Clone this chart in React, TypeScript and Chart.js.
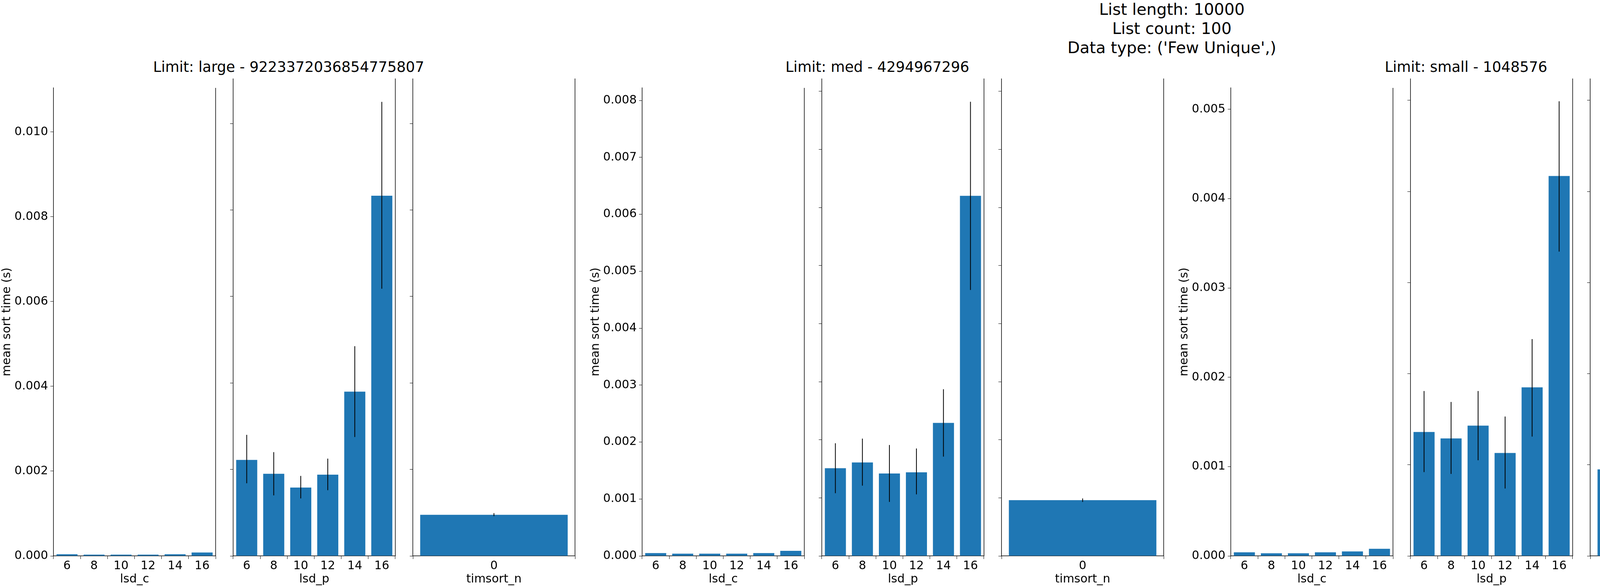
import React, { useEffect, useRef } from "react";
import Chart from "chart.js/auto";

const groupTitles = [
  "Limit: large - 9223372036854775807",
  "Limit: med - 4294967296",
  "Limit: small - 1048576",
  "Limit: tiny - 65536",
];
const groupYMax = [0.01104, 0.00822, 0.00524, 0.00635];
const groupYStep = [0.002, 0.001, 0.001, 0.001];

const radixLabels = ["6", "8", "10", "12", "14", "16"];
const timsortLabels = ["0"];

const lsdC = [
  [0.00004, 0.00003, 0.00003, 0.00003, 0.00004, 0.00008],
  [0.00005, 0.00004, 0.00004, 0.00004, 0.00005, 0.00009],
  [0.00004, 0.00003, 0.00003, 0.00004, 0.00005, 0.00008],
  [0.00004, 0.00003, 0.00003, 0.00003, 0.00005, 0.00008],
];
const lsdP = [
  [0.00222, 0.0019, 0.00158, 0.00188, 0.0038, 0.00833],
  [0.00151, 0.00161, 0.00142, 0.00144, 0.00229, 0.0062],
  [0.00136, 0.00129, 0.00143, 0.00113, 0.00185, 0.00417],
  [0.00126, 0.00098, 0.00111, 0.00119, 0.00177, 0.00477],
];
const lsdPLow = [
  [0.00168, 0.0014, 0.00133, 0.00152, 0.00275, 0.00618],
  [0.00108, 0.00121, 0.00093, 0.00106, 0.00171, 0.00458],
  [0.00092, 0.0009, 0.00105, 0.00074, 0.00131, 0.00334],
  [0.00085, 0.00063, 0.00077, 0.0007, 0.00131, 0.00349],
];
const lsdPHigh = [
  [0.0028, 0.0024, 0.00185, 0.00225, 0.00485, 0.0105],
  [0.00194, 0.00202, 0.00191, 0.00185, 0.00287, 0.00782],
  [0.00181, 0.00169, 0.00181, 0.00153, 0.00238, 0.00499],
  [0.00166, 0.00134, 0.00146, 0.00169, 0.00225, 0.00605],
];
const timsort = [[0.00095], [0.00096], [0.00095], [0.00098]];
const timsortLow = [[0.00092], [0.00093], [0.00093], [0.00091]];
const timsortHigh = [[0.00099], [0.00099], [0.00098], [0.00105]];

const BLUE = "#1f77b4";
const FONT = "'DejaVu Sans', sans-serif";
const PLOT_TOP = 201;
const PLOT_H = 1222;
const PLOT_W = 415;
const CANVAS_H = 1299;
const groupLeft = [137, 1644, 3151, 4658];
const panelOffsets = [0, 460, 920];

type PanelProps = {
  left: number;
  labels: string[];
  values: number[];
  low: number[] | null;
  high: number[] | null;
  xTitle: string;
  yMax: number;
  yStep: number;
  first: boolean;
  barPct: number;
};

const Panel: React.FC<PanelProps> = (p) => {
  const ref = useRef<HTMLCanvasElement | null>(null);
  const yPad = p.first ? 137 : 12;

  useEffect(() => {
    if (!ref.current) return;
    const errPlugin = {
      id: "errbars",
      afterDatasetsDraw(chart: any) {
        const ctx = chart.ctx;
        const y = chart.scales.y;
        const meta = chart.getDatasetMeta(0);
        ctx.save();
        ctx.strokeStyle = "#000";
        ctx.lineWidth = 2;
        meta.data.forEach((el: any, i: number) => {
          const lo = p.low ? p.low[i] : p.values[i];
          const hi = p.high ? p.high[i] : p.values[i];
          ctx.beginPath();
          ctx.moveTo(el.x, y.getPixelForValue(lo));
          ctx.lineTo(el.x, y.getPixelForValue(hi));
          ctx.stroke();
        });
        // right spine
        const a = chart.chartArea;
        ctx.lineWidth = 1.5;
        ctx.beginPath();
        ctx.moveTo(a.right, a.top);
        ctx.lineTo(a.right, a.bottom);
        ctx.stroke();
        ctx.restore();
      },
    };
    const chart = new Chart(ref.current, {
      type: "bar",
      data: {
        labels: p.labels,
        datasets: [
          {
            data: p.values,
            backgroundColor: BLUE,
            barPercentage: p.barPct,
            categoryPercentage: 1,
          },
        ],
      },
      options: {
        animation: false,
        responsive: false,
        maintainAspectRatio: false,
        layout: { padding: { top: 0, right: 2, bottom: 0, left: 0 } },
        plugins: { legend: { display: false }, tooltip: { enabled: false } },
        scales: {
          x: {
            grid: { display: true, drawOnChartArea: false, drawTicks: true, tickLength: 8, color: "#000" },
            border: { display: true, color: "#000", width: 1.5 },
            ticks: { color: "#000", font: { family: FONT, size: 30, lineHeight: 1 }, padding: 3 },
            title: {
              display: true,
              text: p.xTitle,
              color: "#000",
              font: { family: FONT, size: 30, lineHeight: 1 },
              padding: 2,
            },
            afterFit: (s: any) => {
              s.height = CANVAS_H - PLOT_H;
            },
          },
          y: {
            min: 0,
            max: p.yMax,
            grid: { display: true, drawOnChartArea: false, drawTicks: true, tickLength: 8, color: "#000" },
            border: { display: true, color: "#000", width: 1.5 },
            ticks: {
              display: p.first,
              stepSize: p.yStep,
              includeBounds: false,
              color: "#000",
              font: { family: FONT, size: 30 },
              padding: 6,
              callback: (v: any) => Number(v).toFixed(3),
            },
            title: {
              display: p.first,
              text: "mean sort time (s)",
              color: "#000",
              font: { family: FONT, size: 30 },
              padding: 0,
            },
            afterFit: (s: any) => {
              s.width = yPad;
            },
          },
        },
      },
      plugins: [errPlugin],
    });
    return () => chart.destroy();
  }, []);

  return (
    <canvas
      ref={ref}
      width={PLOT_W + yPad + 2}
      height={CANVAS_H}
      style={{ position: "absolute", left: p.left - yPad, top: PLOT_TOP, width: PLOT_W + yPad + 2, height: CANVAS_H }}
    />
  );
};

const App: React.FC = () => {
  return (
    <div style={{ position: "absolute", left: 0, top: 0, width: 6000, height: 1500, background: "#fff", fontFamily: FONT }}>
      <div style={{ position: "absolute", left: 0, width: 6000, top: 0, textAlign: "center", fontSize: 41, lineHeight: "49px" }}>
        <div>List length: 10000</div>
        <div>List count: 100</div>
        <div>Data type: ('Few Unique',)</div>
      </div>
      {groupTitles.map((t, g) => (
        <React.Fragment key={g}>
          <div
            style={{
              position: "absolute",
              left: groupLeft[g] + 602 - 700,
              width: 1400,
              top: 150,
              textAlign: "center",
              fontSize: 37,
              lineHeight: "44px",
            }}
          >
            {t}
          </div>
          <Panel
            left={groupLeft[g] + panelOffsets[0]}
            labels={radixLabels}
            values={lsdC[g]}
            low={null}
            high={null}
            xTitle="lsd_c"
            yMax={groupYMax[g]}
            yStep={groupYStep[g]}
            first={true}
            barPct={0.78}
          />
          <Panel
            left={groupLeft[g] + panelOffsets[1]}
            labels={radixLabels}
            values={lsdP[g]}
            low={lsdPLow[g]}
            high={lsdPHigh[g]}
            xTitle="lsd_p"
            yMax={groupYMax[g]}
            yStep={groupYStep[g]}
            first={false}
            barPct={0.78}
          />
          <Panel
            left={groupLeft[g] + panelOffsets[2]}
            labels={timsortLabels}
            values={timsort[g]}
            low={timsortLow[g]}
            high={timsortHigh[g]}
            xTitle="timsort_n"
            yMax={groupYMax[g]}
            yStep={groupYStep[g]}
            first={false}
            barPct={0.91}
          />
        </React.Fragment>
      ))}
    </div>
  );
};

export default App;
